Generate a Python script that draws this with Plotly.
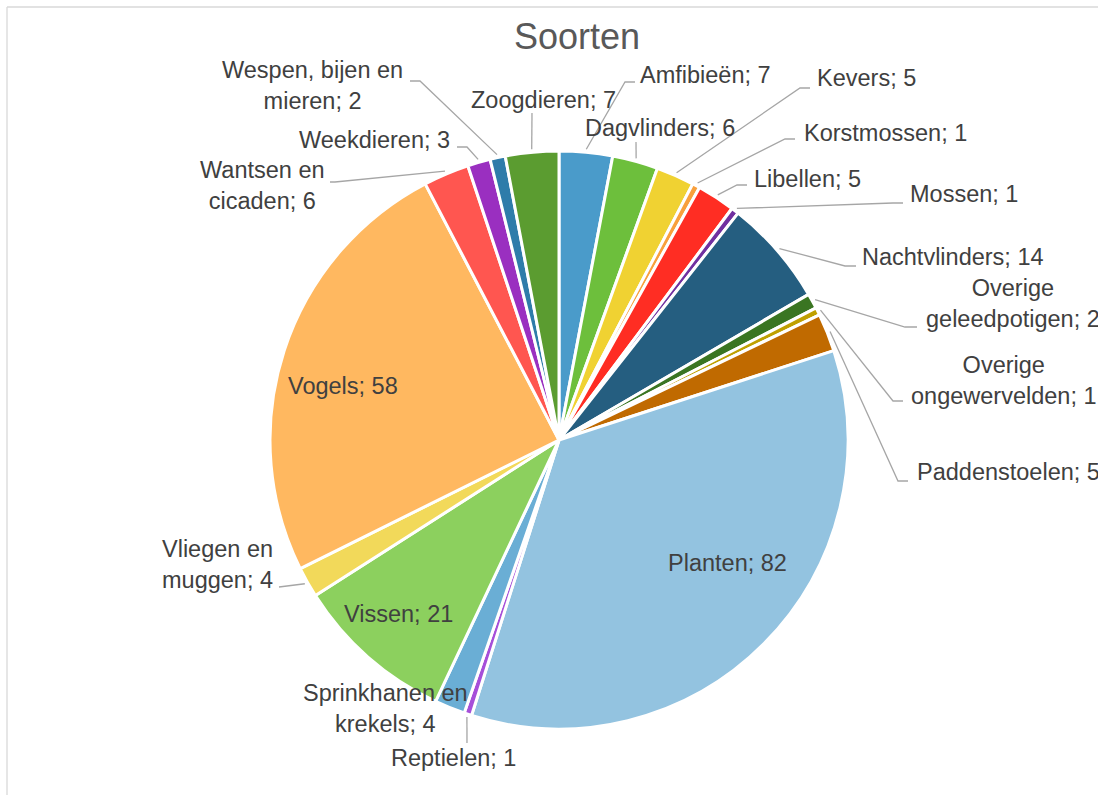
import math
import plotly.graph_objects as go

# ---------------- data ----------------
categories = [
    "Amfibieën", "Dagvlinders", "Kevers", "Korstmossen", "Libellen", "Mossen",
    "Nachtvlinders", "Overige geleedpotigen", "Overige ongewervelden",
    "Paddenstoelen", "Planten", "Reptielen", "Sprinkhanen en krekels", "Vissen",
    "Vliegen en muggen", "Vogels", "Wantsen en cicaden", "Weekdieren",
    "Wespen, bijen en mieren", "Zoogdieren",
]
values = [7, 6, 5, 1, 5, 1, 14, 2, 1, 5, 82, 1, 4, 21, 4, 58, 6, 3, 2, 7]
# label text as displayed (line breaks as in the chart)
label_texts = [
    "Amfibieën; 7", "Dagvlinders; 6", "Kevers; 5", "Korstmossen; 1", "Libellen; 5",
    "Mossen; 1", "Nachtvlinders; 14", "Overige<br>geleedpotigen; 2",
    "Overige<br>ongewervelden; 1", "Paddenstoelen; 5", "Planten; 82", "Reptielen; 1",
    "Sprinkhanen en<br>krekels; 4", "Vissen; 21", "Vliegen en<br>muggen; 4",
    "Vogels; 58", "Wantsen en<br>cicaden; 6", "Weekdieren; 3",
    "Wespen, bijen en<br>mieren; 2", "Zoogdieren; 7",
]
title_text = "Soorten"

# ---------------- styles / layout ----------------
colors = [
    "#4A9BCA", "#6DBF3C", "#F0D232", "#F8A03C", "#FF2D23", "#7030A0",
    "#255E80", "#3A7522", "#BFA000", "#C06A00", "#93C3E0", "#A64FD9",
    "#6AAED5", "#8CD05E", "#F2D95A", "#FFB860", "#FF5650", "#9A2FC0",
    "#2E7CAA", "#5B9C30",
]
W, H = 1098, 795
CX, CY, R = 559, 440, 289          # pie centre and radius in pixels
LINE_R = R + 3                      # where leader lines start
FONT = "Liberation Sans, Arial, sans-serif"
TXT = "#404040"
LEADER = "#A6A6A6"

# label placement (pixel positions): x, y, xanchor, [intermediate/end points of leader]
label_layout = [
    (638, 75, "left", [(625, 82), (635, 82)]),
    (660, 128, "center", [(636, 142)]),
    (815, 78, "left", [(800, 88), (810, 88)]),
    (802, 133, "left", [(785, 139), (795, 139)]),
    (752, 179, "left", [(737, 185), (747, 185)]),
    (908, 194, "left", [(893, 203), (903, 203)]),
    (860, 257, "left", [(845, 266), (856, 266)]),
    (1013, 303, "center", [(905, 327), (917, 327)]),
    (1004, 380, "center", [(893, 401), (903, 401)]),
    (915, 472, "left", [(898, 481), (908, 481)]),
    (727, 563, "center", None),
    (453, 758, "center", [(467, 743)]),
    (385, 708, "center", None),
    (398, 614, "center", None),
    (217, 564, "center", [(279, 587)]),
    (343, 386, "center", None),
    (262, 186, "center", [(335, 182), (330, 182)]),
    (452, 140, "right", [(467, 147), (457, 147)]),
    (312, 86, "center", [(420, 81), (410, 81)]),
    (543, 100, "center", [(532, 113)]),
]


def px(x):
    return x / W


def py(y):
    return 1 - y / H


fig = go.Figure(
    go.Pie(
        labels=categories,
        values=values,
        sort=False,
        direction="clockwise",
        rotation=0,
        textinfo="none",
        hoverinfo="label+value",
        showlegend=False,
        marker=dict(colors=colors, line=dict(color="white", width=3)),
        domain=dict(x=[px(CX - R), px(CX + R)], y=[py(CY + R), py(CY - R)]),
    )
)

total = sum(values)
cum = 0
annotations = []
shapes = []
for val, txt, lay in zip(values, label_texts, label_layout):
    mid = (cum + val / 2) / total * 2 * math.pi
    cum += val
    x, y, xa, pts = lay
    annotations.append(dict(
        x=px(x), y=py(y), xref="paper", yref="paper", text=txt, showarrow=False,
        xanchor=xa, yanchor="middle", align="center",
        font=dict(family=FONT, size=23.5, color=TXT),
    ))
    if pts:
        sx = CX + LINE_R * math.sin(mid)
        sy = CY - LINE_R * math.cos(mid)
        allp = [(sx, sy)] + pts
        path = "M " + " L ".join(f"{px(a):.5f},{py(b):.5f}" for a, b in allp)
        shapes.append(dict(type="path", path=path, xref="paper", yref="paper",
                           line=dict(color=LEADER, width=1.3)))

# chart-area border (top and left edges visible)
shapes.append(dict(type="line", xref="paper", yref="paper", x0=px(7), y0=py(7),
                   x1=1.05, y1=py(7), line=dict(color="#D9D9D9", width=1.3)))
shapes.append(dict(type="line", xref="paper", yref="paper", x0=px(7), y0=py(7),
                   x1=px(7), y1=-0.05, line=dict(color="#D9D9D9", width=1.3)))

fig.update_layout(
    width=W, height=H, autosize=False,
    margin=dict(l=0, r=0, t=0, b=0),
    paper_bgcolor="white", plot_bgcolor="white",
    title=dict(text=title_text, x=px(577), y=py(36), xref="paper", yref="paper",
               xanchor="center", yanchor="middle",
               font=dict(family=FONT, size=36, color="#595959")),
    annotations=annotations,
    shapes=shapes,
)

fig.write_html(
    "out.html",
    config={"displayModeBar": False},
    post_script="document.body.style.margin='0';document.body.style.overflow='hidden';",
)
